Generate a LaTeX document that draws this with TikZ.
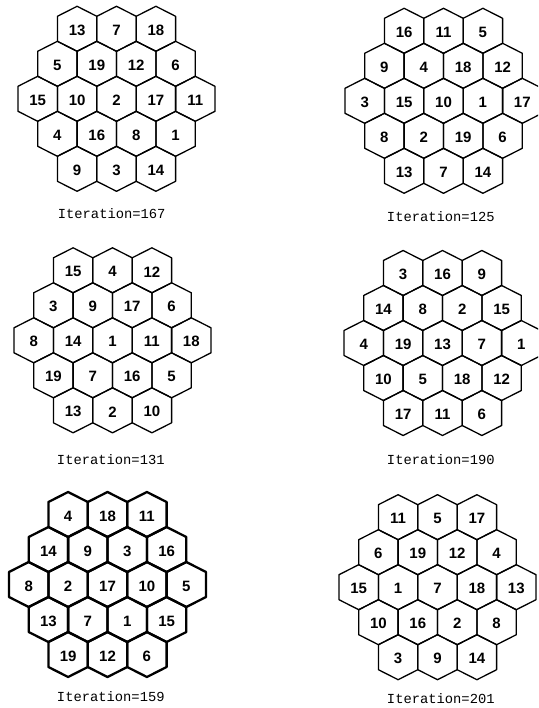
\documentclass[tikz,border=0pt]{standalone}
\usepackage{fontspec}
\setmainfont{Liberation Sans}
\newfontfamily\labelfont{Liberation Mono}

% one row of cells: #1 grid name, #2 x of first cell, #3 y, #4 numbers
\newcommand{\hexrow}[4]{%
  \foreach \v [count=\i] in {#4} {
    \draw[hexline] ({#2+(\i-1)*39.4},{#3}) ++(0,-22.5) -- ++(19.7,10) -- ++(0,25)
      -- ++(-19.7,10) -- ++(-19.7,-10) -- ++(0,-25) -- cycle;
    \node[num] (#1n\v) at ({#2+(\i-1)*39.4},{#3}) {\v};
  }}

% whole board of 19 cells: #1 name, #2/#3 centre, #4..#8 rows
\newcommand{\hexgrid}[8]{%
  \hexrow{#1}{#2-39.4}{#3-70}{#4}
  \hexrow{#1}{#2-59.1}{#3-35}{#5}
  \hexrow{#1}{#2-78.8}{#3}{#6}
  \hexrow{#1}{#2-59.1}{#3+35}{#7}
  \hexrow{#1}{#2-39.4}{#3+70}{#8}}

\begin{document}
\begin{tikzpicture}[x=1pt, y=-1pt,
  num/.style={font=\bfseries\fontsize{15}{15}\selectfont, inner sep=0pt, yshift=-1.5pt},
  hexline/.style={draw, line width=1.3pt, line join=round},
  iter/.style={font=\labelfont\fontsize{13.8}{14}\selectfont, inner sep=0pt}
]
\useasboundingbox (0,0) rectangle (538,708);
\clip (0,0) rectangle (538,708);

\hexgrid{ga}{116.5}{98.8}{13,7,18}{5,19,12,6}{15,10,2,17,11}{4,16,8,1}{9,3,14}
\node[iter] (itera) at (111.7,214) {Iteration=167};

\hexgrid{gb}{443.5}{100.8}{16,11,5}{9,4,18,12}{3,15,10,1,17}{8,2,19,6}{13,7,14}
\node[iter] (iterb) at (440.8,216.7) {Iteration=125};

\hexgrid{gc}{112.5}{340.3}{15,4,12}{3,9,17,6}{8,14,1,11,18}{19,7,16,5}{13,2,10}
\node[iter] (iterc) at (110.8,459.3) {Iteration=131};

\hexgrid{gd}{442.5}{343}{3,16,9}{14,8,2,15}{4,19,13,7,1}{10,5,18,12}{17,11,6}
\node[iter] (iterd) at (440.8,459.3) {Iteration=190};

% this board is printed heavier
\begin{scope}[hexline/.style={draw, line width=2.3pt, line join=round}]
\hexgrid{ge}{107.5}{584.5}{4,18,11}{14,9,3,16}{8,2,17,10,5}{13,7,1,15}{19,12,6}
\end{scope}
\node[iter] (itere) at (110.8,696.7) {Iteration=159};

\hexgrid{gf}{437.5}{587.2}{11,5,17}{6,19,12,4}{15,1,7,18,13}{10,16,2,8}{3,9,14}
\node[iter] (iterf) at (440.8,698.3) {Iteration=201};
\end{tikzpicture}
\end{document}
